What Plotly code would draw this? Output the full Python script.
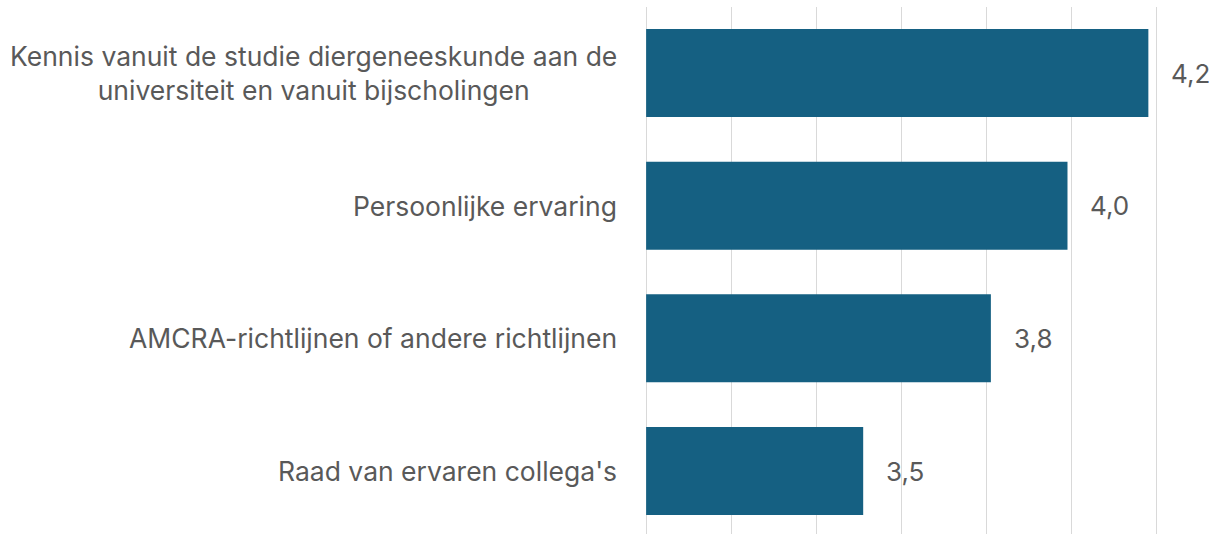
import plotly.graph_objects as go

categories = [
    "Kennis vanuit de studie diergeneeskunde aan de<br>universiteit en vanuit bijscholingen",
    "Persoonlijke ervaring",
    "AMCRA-richtlijnen of andere richtlijnen",
    "Raad van ervaren collega's",
]
values = [4.18, 3.99, 3.81, 3.51]
axis_start = 3.0

BAR_COLOR = "#156082"
TEXT_COLOR = "#595959"
FONT = "Inter, Roboto, sans-serif"

fig = go.Figure()
fig.add_trace(go.Bar(
    x=[v - axis_start for v in values],
    base=axis_start,
    y=list(range(len(categories))),
    orientation="h",
    marker=dict(color=BAR_COLOR, line=dict(width=0)),
    hoverinfo="skip",
))

annotations = []
for i, (cat, v) in enumerate(zip(categories, values)):
    annotations.append(dict(
        x=0, xref="paper", y=i, yref="y",
        text=cat, showarrow=False, xanchor="right", yanchor="middle",
        align="center", xshift=-25,
        font=dict(family=FONT, size=26.5, color=TEXT_COLOR),
    ))
    annotations.append(dict(
        x=v, xref="x", y=i, yref="y",
        text=f"{v:.1f}".replace(".", ","), showarrow=False,
        xanchor="left", yanchor="middle", xshift=21,
        font=dict(family=FONT, size=26, color=TEXT_COLOR),
    ))

fig.update_layout(
    width=1214, height=534,
    margin=dict(l=644, r=55, t=7, b=0),
    paper_bgcolor="white", plot_bgcolor="white",
    showlegend=False,
    bargap=0.337,
    annotations=annotations,
    xaxis=dict(range=[2.995, 4.205], dtick=0.2, tick0=3.0, showticklabels=False,
               showgrid=True, gridcolor="#D9D9D9", gridwidth=1,
               zeroline=False, showline=False, ticks="", fixedrange=True),
    yaxis=dict(range=[3.4747, -0.4975], showticklabels=False, showgrid=False,
               zeroline=False, showline=False, ticks="", fixedrange=True),
)

fig.write_html(
    "out.html",
    config={"displayModeBar": False, "staticPlot": True},
    post_script="document.body.style.margin='0';document.body.style.overflow='hidden';",
)
